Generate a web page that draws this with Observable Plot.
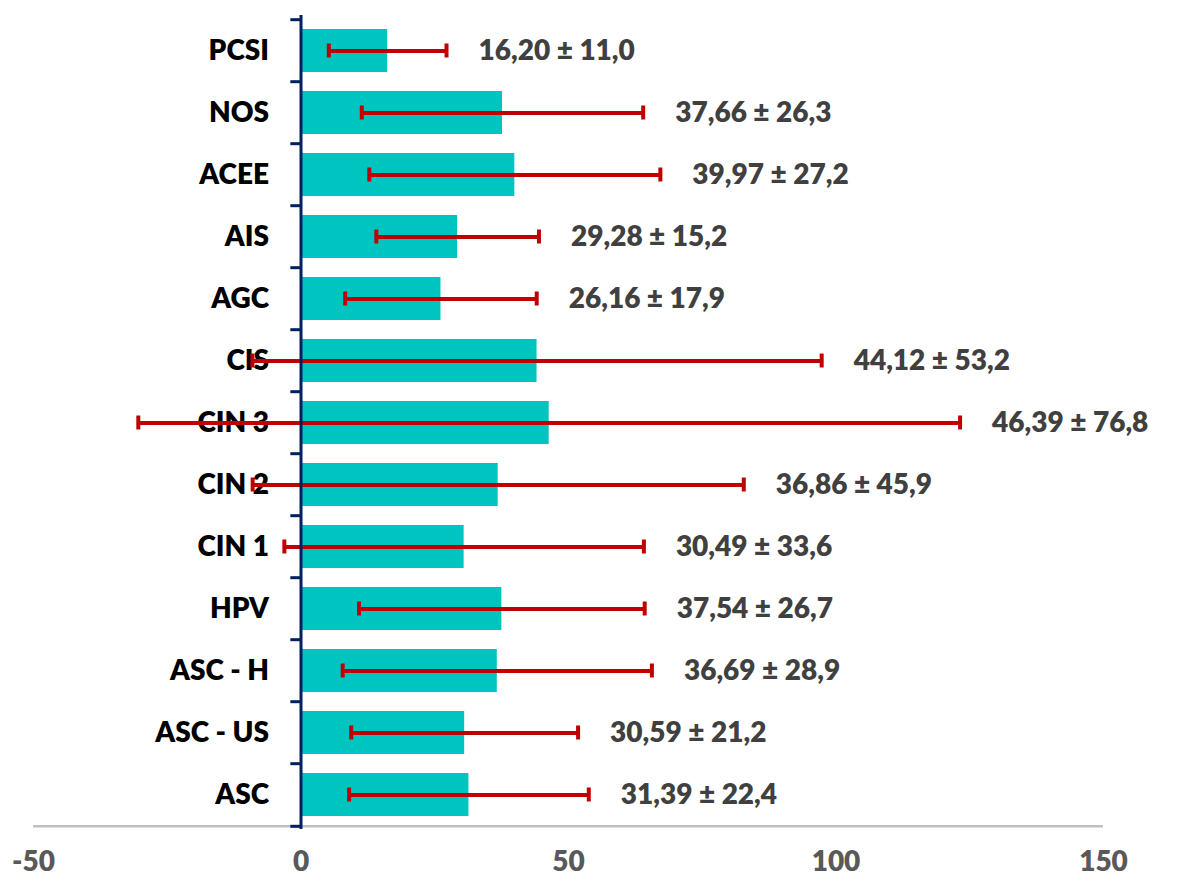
<!DOCTYPE html>
<html><head><meta charset="utf-8">
<script src="https://cdn.jsdelivr.net/npm/d3@7"></script>
<script src="https://cdn.jsdelivr.net/npm/@observablehq/plot@0.6"></script>
<style>body{margin:0;background:#fff}</style>
</head><body><div id="chart"></div>
<script>
const categories = ["PCSI","NOS","ACEE","AIS","AGC","CIS","CIN 3","CIN 2","CIN 1","HPV","ASC - H","ASC - US","ASC"];
const means = [16.20,37.66,39.97,29.28,26.16,44.12,46.39,36.86,30.49,37.54,36.69,30.59,31.39];
const sds = [11.0,26.3,27.2,15.2,17.9,53.2,76.8,45.9,33.6,26.7,28.9,21.2,22.4];
const valueLabels = ["16,20 ± 11,0","37,66 ± 26,3","39,97 ± 27,2","29,28 ± 15,2","26,16 ± 17,9","44,12 ± 53,2","46,39 ± 76,8","36,86 ± 45,9","30,49 ± 33,6","37,54 ± 26,7","36,69 ± 28,9","30,59 ± 21,2","31,39 ± 22,4"];
const xTicks = [-50, 0, 50, 100, 150];

const data = categories.map((c, i) => ({cat: c, mean: means[i], lo: means[i] - sds[i], hi: means[i] + sds[i], label: valueLabels[i]}));

const H = 889, mT = 15, mB = 60;
const step = (H - mT - mB) / categories.length;
const red = "#C00000", navy = "#002060";
const fw = 800;

const chart = Plot.plot({
  width: 1177, height: H,
  marginTop: mT, marginBottom: mB, marginLeft: 33, marginRight: 74,
  style: {fontFamily: "Lato, 'Open Sans', sans-serif", background: "white"},
  x: {domain: [-50, 150], label: null, axis: null},
  y: {domain: categories, paddingInner: 0.31, paddingOuter: 0.155, axis: null},
  marks: [
    Plot.ruleY([categories[categories.length - 1]], {x1: -50, x2: 150, stroke: "#BFBFBF", strokeWidth: 2.5, dy: step / 2}),
    Plot.text(xTicks, {x: d => d, text: d => String(d), frameAnchor: "bottom", dy: 41, fontSize: 28, fontWeight: fw, fill: "#595959"}),
    Plot.barX(data, {y: "cat", x: "mean", fill: "#00C4C0"}),
    Plot.text(data, {y: "cat", x: 0, text: "cat", textAnchor: "end", dx: -32, fontSize: 28, fontWeight: fw, fill: "#000"}),
    Plot.ruleY(data, {y: "cat", x1: "lo", x2: "hi", stroke: red, strokeWidth: 4}),
    Plot.tickX(data, {y: "cat", x: "lo", stroke: red, strokeWidth: 4, insetTop: 14.5, insetBottom: 14.5}),
    Plot.tickX(data, {y: "cat", x: "hi", stroke: red, strokeWidth: 4, insetTop: 14.5, insetBottom: 14.5}),
    Plot.text(data, {y: "cat", x: "hi", text: "label", textAnchor: "start", dx: 32, fontSize: 28, fontWeight: fw, fill: "#404040"}),
    Plot.ruleX([0], {stroke: navy, strokeWidth: 3}),
    Plot.ruleY(categories, {x1: -1.9, x2: 0, dy: -step / 2, stroke: navy, strokeWidth: 3}),
    Plot.ruleY([categories[categories.length - 1]], {x1: -1.9, x2: 0, dy: step / 2, stroke: navy, strokeWidth: 3})
  ]
});
document.getElementById("chart").append(chart);
</script>
</body></html>
